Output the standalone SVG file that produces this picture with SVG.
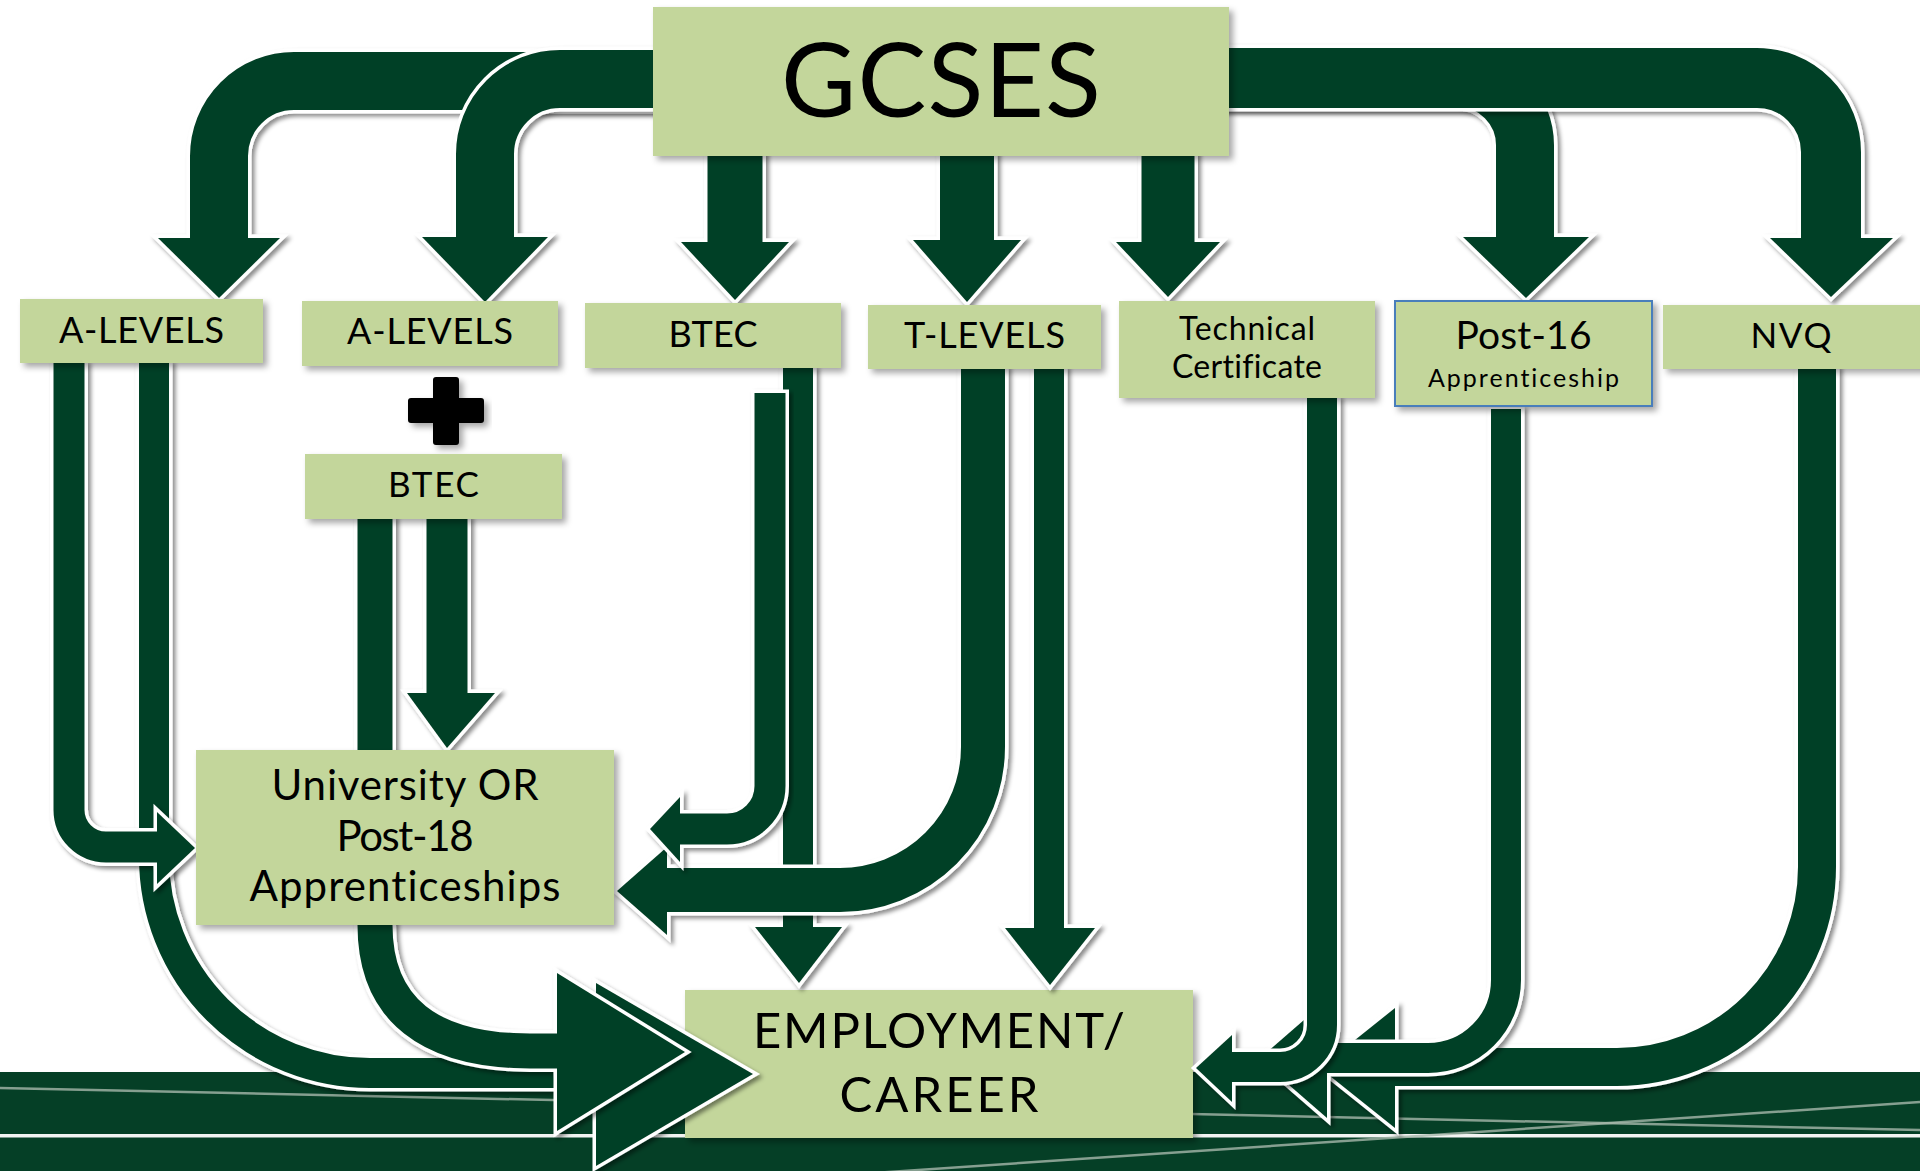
<svg xmlns="http://www.w3.org/2000/svg" width="1920" height="1171" viewBox="0 0 1920 1171">
<defs>
<filter id="sh" x="-20%" y="-20%" width="140%" height="140%">
<feDropShadow dx="3" dy="3" stdDeviation="2" flood-color="#000" flood-opacity="0.45"/>
</filter>
<filter id="bsh" x="-10%" y="-10%" width="120%" height="130%">
<feDropShadow dx="4" dy="4" stdDeviation="3" flood-color="#000" flood-opacity="0.35"/>
</filter>
<style>
.ow{fill:none;stroke:#ffffff;stroke-linejoin:round}
.of{fill:none;stroke:#053F26;stroke-linejoin:round}
.hw{fill:#ffffff;stroke:#ffffff;stroke-width:7;stroke-linejoin:miter}
.hf{fill:#053F26}
.arr{filter:url(#sh)}
.box{fill:#C3D69B;filter:url(#bsh)}
.t{font-family:Lato,'Liberation Sans',sans-serif;font-weight:400;font-variant-ligatures:none;fill:#000;text-anchor:middle}
</style>
</defs>
<rect x="0" y="0" width="1920" height="1171" fill="#ffffff"/>
<g id="background">
<rect x="0" y="1072" width="1920" height="99" fill="#053F26"/>
<rect x="0" y="1134" width="1920" height="3.5" fill="#f2f4f2"/>
<line x1="0" y1="1088" x2="1920" y2="1130" stroke="#a7b8ab" stroke-width="2.5" opacity="0.8"/>
<line x1="800" y1="1178" x2="1920" y2="1102" stroke="#a7b8ab" stroke-width="2.5" opacity="0.8"/>
</g>
<g id="node-employment">
<rect class="box" x="685" y="990" width="508" height="148"/>
<text class="t" x="939" y="1048" font-size="49" textLength="372">EMPLOYMENT/</text>
<text class="t" x="939" y="1112" font-size="49" textLength="199">CAREER</text>
</g>
<g id="connectors">
<g class="arr" id="c-gcses-alevels1">
<path class="ow" d="M 700,81 L 294,81 A 75 75 0 0 0 219,156 L 219,238" stroke-width="65"/>
<polygon class="hw" points="158,238 280,238 219,298"/>
<path class="of" d="M 700,81 L 294,81 A 75 75 0 0 0 219,156 L 219,238" stroke-width="58"/>
<polygon class="hf" points="158,238 280,238 219,298"/>
</g>
<g class="arr" id="c-gcses-alevels2">
<path class="ow" d="M 700,79 L 560,79 A 75 75 0 0 0 485,154 L 485,237" stroke-width="65"/>
<polygon class="hw" points="422,237 548,237 485,302"/>
<path class="of" d="M 700,79 L 560,79 A 75 75 0 0 0 485,154 L 485,237" stroke-width="58"/>
<polygon class="hf" points="422,237 548,237 485,302"/>
</g>
<g class="arr" id="c-gcses-btec">
<path class="ow" d="M 735,150 L 735,242" stroke-width="62"/>
<polygon class="hw" points="681,242 789,242 735,300"/>
<path class="of" d="M 735,150 L 735,242" stroke-width="55"/>
<polygon class="hf" points="681,242 789,242 735,300"/>
</g>
<g class="arr" id="c-gcses-tlevels">
<path class="ow" d="M 967,150 L 967,240" stroke-width="61"/>
<polygon class="hw" points="913,240 1021,240 967,302"/>
<path class="of" d="M 967,150 L 967,240" stroke-width="54"/>
<polygon class="hf" points="913,240 1021,240 967,302"/>
</g>
<g class="arr" id="c-gcses-tech">
<path class="ow" d="M 1168,150 L 1168,242" stroke-width="60"/>
<polygon class="hw" points="1116,242 1220,242 1168,297"/>
<path class="of" d="M 1168,150 L 1168,242" stroke-width="53"/>
<polygon class="hf" points="1116,242 1220,242 1168,297"/>
</g>
<g class="arr" id="c-gcses-post16">
<path class="ow" d="M 1200,78 L 1458,78 A 67 67 0 0 1 1525,145 L 1525,237" stroke-width="65"/>
<polygon class="hw" points="1463,237 1589,237 1526,298"/>
<path class="of" d="M 1200,78 L 1458,78 A 67 67 0 0 1 1525,145 L 1525,237" stroke-width="58"/>
<polygon class="hf" points="1463,237 1589,237 1526,298"/>
</g>
<g class="arr" id="c-gcses-nvq">
<path class="ow" d="M 1200,78 L 1757,78 A 74 74 0 0 1 1831,152 L 1831,238" stroke-width="67"/>
<polygon class="hw" points="1770,238 1893,238 1831,297"/>
<path class="of" d="M 1200,78 L 1757,78 A 74 74 0 0 1 1831,152 L 1831,238" stroke-width="60"/>
<polygon class="hf" points="1770,238 1893,238 1831,297"/>
</g>
<g class="arr" id="c-alevels1-employment">
<path class="ow" d="M 154,360 L 154,857 A 216 216 0 0 0 370,1073 L 596,1073" stroke-width="37"/>
<polygon class="hw" points="596,983 596,1166 753,1074"/>
<path class="of" d="M 154,360 L 154,857 A 216 216 0 0 0 370,1073 L 596,1073" stroke-width="30"/>
<polygon class="hf" points="596,983 596,1166 753,1074"/>
</g>
<g class="arr" id="c-btec2-employment">
<path class="ow" d="M 375,515 L 375,925 C 375,1010 430,1051 530,1051 L 557,1051" stroke-width="42"/>
<polygon class="hw" points="557,973 557,1131 685,1052"/>
<path class="of" d="M 375,515 L 375,925 C 375,1010 430,1051 530,1051 L 557,1051" stroke-width="35"/>
<polygon class="hf" points="557,973 557,1131 685,1052"/>
</g>
<g class="arr" id="c-alevels1-university">
<path class="ow" d="M 69,360 L 69,810 A 37 37 0 0 0 106,847 L 157,847" stroke-width="38"/>
<polygon class="hw" points="157,812 157,884 195,848"/>
<path class="of" d="M 69,360 L 69,810 A 37 37 0 0 0 106,847 L 157,847" stroke-width="31"/>
<polygon class="hf" points="157,812 157,884 195,848"/>
</g>
<g class="arr" id="c-btec2-university">
<path class="ow" d="M 447,515 L 447,693" stroke-width="48"/>
<polygon class="hw" points="407,693 495,693 447,748"/>
<path class="of" d="M 447,515 L 447,693" stroke-width="41"/>
<polygon class="hf" points="407,693 495,693 447,748"/>
</g>
<g class="arr" id="c-btec-employment">
<path class="ow" d="M 798,365 L 798,927" stroke-width="37"/>
<polygon class="hw" points="755,927 842,927 799,983"/>
<path class="of" d="M 798,365 L 798,927" stroke-width="30"/>
<polygon class="hf" points="755,927 842,927 799,983"/>
</g>
<g class="arr" id="c-tlevels-university">
<path class="ow" d="M 983,365 L 983,747 A 143 143 0 0 1 840,890 L 667,890" stroke-width="51"/>
<polygon class="hw" points="667,847 667,935 617,891"/>
<path class="of" d="M 983,365 L 983,747 A 143 143 0 0 1 840,890 L 667,890" stroke-width="44"/>
<polygon class="hf" points="667,847 667,935 617,891"/>
</g>
<g class="arr" id="c-btec-university">
<path class="ow" d="M 770,389.5 L 770,786 A 43 43 0 0 1 727,829 L 680,829" stroke-width="38" stroke-linejoin="miter"/>
<polygon class="hw" points="680,797 680,862 650,829"/>
<path class="of" d="M 770,393 L 770,786 A 43 43 0 0 1 727,829 L 680,829" stroke-width="31"/>
<polygon class="hf" points="680,797 680,862 650,829"/>
</g>
<g class="arr" id="c-tlevels-employment">
<path class="ow" d="M 1049,365 L 1049,928" stroke-width="37"/>
<polygon class="hw" points="1005,928 1095,928 1050,985"/>
<path class="of" d="M 1049,365 L 1049,928" stroke-width="30"/>
<polygon class="hf" points="1005,928 1095,928 1050,985"/>
</g>
<g class="arr" id="c-nvq-employment">
<path class="ow" d="M 1817,365 L 1817,867 A 200 200 0 0 1 1617,1067 L 1395,1067" stroke-width="45"/>
<polygon class="hw" points="1395,1008 1395,1128 1320,1068"/>
<path class="of" d="M 1817,365 L 1817,867 A 200 200 0 0 1 1617,1067 L 1395,1067" stroke-width="38"/>
<polygon class="hf" points="1395,1008 1395,1128 1320,1068"/>
</g>
<g class="arr" id="c-post16-employment">
<path class="ow" d="M 1506,405.5 L 1506,980 A 78 78 0 0 1 1428,1058 L 1327,1058" stroke-width="37"/>
<polygon class="hw" points="1327,1000 1327,1118 1259,1059"/>
<path class="of" d="M 1506,409 L 1506,980 A 78 78 0 0 1 1428,1058 L 1327,1058" stroke-width="30"/>
<polygon class="hf" points="1327,1000 1327,1118 1259,1059"/>
</g>
<g class="arr" id="c-tech-employment">
<path class="ow" d="M 1322,395 L 1322,1025 A 42 42 0 0 1 1280,1067 L 1232,1067" stroke-width="37"/>
<polygon class="hw" points="1232,1035 1232,1102 1196,1068"/>
<path class="of" d="M 1322,395 L 1322,1025 A 42 42 0 0 1 1280,1067 L 1232,1067" stroke-width="30"/>
<polygon class="hf" points="1232,1035 1232,1102 1196,1068"/>
</g>
</g>
<g id="node-gcses">
<rect class="box" x="653" y="7" width="576" height="149"/>
<text class="t" x="941" y="117" font-size="103" textLength="320">GCSES</text>
</g>
<g id="node-alevels1">
<rect class="box" x="20" y="299" width="243" height="64"/>
<text class="t" x="141.5" y="343" font-size="36" textLength="165">A-LEVELS</text>
</g>
<g id="node-alevels2">
<rect class="box" x="302" y="301" width="256" height="65"/>
<text class="t" x="430" y="344" font-size="36" textLength="166">A-LEVELS</text>
</g>
<g id="plus">
<path d="M 436,377 L 456,377 Q 459,377 459,380 L 459,398 L 481,398 Q 484,398 484,401 L 484,420 Q 484,423 481,423 L 459,423 L 459,442 Q 459,445 456,445 L 436,445 Q 433,445 433,442 L 433,423 L 411,423 Q 408,423 408,420 L 408,401 Q 408,398 411,398 L 433,398 L 433,380 Q 433,377 436,377 Z" fill="#000" filter="url(#bsh)"/>
</g>
<g id="node-btec">
<rect class="box" x="585" y="303" width="256" height="65"/>
<text class="t" x="713" y="347" font-size="36" textLength="89">BTEC</text>
</g>
<g id="node-tlevels">
<rect class="box" x="868" y="305" width="233" height="64"/>
<text class="t" x="984.5" y="348" font-size="36" textLength="161">T-LEVELS</text>
</g>
<g id="node-tech">
<rect class="box" x="1119" y="301" width="256" height="97"/>
<text class="t" x="1247" y="340" font-size="32" textLength="136">Technical</text>
<text class="t" x="1247" y="378" font-size="32" textLength="150">Certificate</text>
</g>
<g id="node-post16">
<rect class="box" x="1395" y="301" width="257" height="105" stroke="#4A7EBB" stroke-width="2"/>
<text class="t" x="1523.5" y="349" font-size="39" textLength="136">Post-16</text>
<text class="t" x="1523.5" y="387" font-size="25" textLength="191">Apprenticeship</text>
</g>
<g id="node-nvq">
<rect class="box" x="1663" y="305" width="270" height="64"/>
<text class="t" x="1791" y="348" font-size="35" textLength="81">NVQ</text>
</g>
<g id="node-btec2">
<rect class="box" x="305" y="454" width="257" height="65"/>
<text class="t" x="433.5" y="497" font-size="35" textLength="91">BTEC</text>
</g>
<g id="node-university">
<rect class="box" x="196" y="750" width="418" height="175"/>
<text class="t" x="405" y="800" font-size="42" textLength="267">University OR</text>
<text class="t" x="405" y="851" font-size="42" textLength="137">Post-18</text>
<text class="t" x="405" y="901" font-size="42" textLength="311">Apprenticeships</text>
</g>
</svg>
